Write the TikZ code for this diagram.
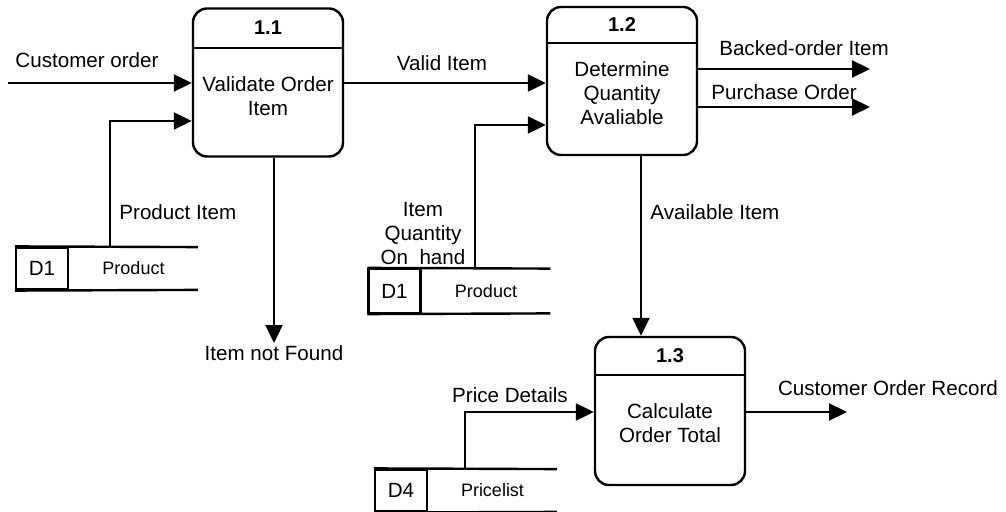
\documentclass[tikz,border=0pt]{standalone}
\usepackage{fontspec}
\setmainfont{Liberation Sans}
\usetikzlibrary{arrows.meta,positioning}

\begin{document}
\begin{tikzpicture}[
x=0.5pt,y=-0.5pt,
font=\fontsize{10.3}{12}\selectfont,
process/.style={draw,line width=1.2pt,rounded corners=7pt,minimum width=75pt,minimum height=74pt},
procid/.style={font=\fontsize{10}{12}\selectfont\bfseries},
proctext/.style={align=center,font=\fontsize{10.3}{12}\selectfont},
storeid/.style={draw,line width=1.1pt,minimum width=26pt,minimum height=21pt,inner sep=0pt},
storename/.style={minimum width=64pt,minimum height=21pt,inner sep=0pt,font=\fontsize{9}{11}\selectfont},
storeline/.style={line width=1.2pt},
flow/.style={line width=1.1pt,-{Triangle[length=9pt,width=8.5pt]}},
lbl/.style={inner sep=1pt,align=center}
]
\useasboundingbox (0,0) rectangle (1006,512);

% processes
\node[process] (p11) at (268,82.5) {};
\node[procid] (n11) at (268,28) {1.1};
\draw[storeline] (p11.west |- 0,48) -- (p11.east |- 0,48);
\node[proctext] (t11) at (268,96) {Validate Order\\Item};

\node[process] (p12) at (622,81) {};
\node[procid] (n12) at (622,25) {1.2};
\draw[storeline] (p12.west |- 0,43) -- (p12.east |- 0,43);
\node[proctext] (t12) at (622,93) {Determine\\Quantity\\Avaliable};

\node[process] (p13) at (670,411) {};
\node[procid] (n13) at (670,356) {1.3};
\draw[storeline] (p13.west |- 0,375) -- (p13.east |- 0,375);
\node[proctext] (t13) at (670,423) {Calculate\\Order Total};

% data stores
\node[storeid] (d1a) at (42,268.5) {D1};
\node[storename,right=0pt of d1a] (d1aname) {Product};
\draw[storeline] (d1a.north west) -- (d1aname.north east);
\draw[storeline] (d1a.south west) -- (d1aname.south east);

\node[storeid,minimum height=22pt] (d1b) at (394.5,291) {D1};
\node[storename,minimum height=22pt,right=0pt of d1b] (d1bname) {Product};
\draw[storeline] (d1b.north west) -- (d1bname.north east);
\draw[storeline] (d1b.south west) -- (d1bname.south east);

\node[storeid] (d4) at (401,490.5) {D4};
\node[storename,right=0pt of d4] (d4name) {Pricelist};
\draw[storeline] (d4.north west) -- (d4name.north east);
\draw[storeline] (d4.south west) -- (d4name.south east);

% flows
\coordinate (co) at (8,83);
\draw[flow] (co) -- (co -| p11.west);
\node[lbl] (lco) at (87,60) {Customer order};

\coordinate (pi) at (110,121);
\draw[flow] (pi |- d1aname.north) -- (pi) -- (pi -| p11.west);
\node[lbl,anchor=west] (lpi) at (117,212) {Product Item};

\node[lbl] (inf) at (274,353) {Item not Found};
\draw[flow] (inf.north |- p11.south) -- (inf.north);

\draw[flow] (p11.east |- 0,83) -- (p12.west |- 0,83);
\node[lbl] (lvi) at (442,63) {Valid Item};

\coordinate (bo) at (870,69);
\draw[flow] (bo -| p12.east) -- (bo);
\node[lbl] (lbo) at (804,48) {Backed-order Item};

\coordinate (po) at (870,107);
\draw[flow] (po -| p12.east) -- (po);
\node[lbl] (lpo) at (784,92) {Purchase Order};

\coordinate (iq) at (475,125);
\draw[flow] (iq |- d1bname.north) -- (iq) -- (iq -| p12.west);
\node[lbl] (liq) at (423,234) {Item\\Quantity\\On~ hand};

\coordinate (av) at (641,0);
\draw[flow] (av |- p12.south) -- (av |- p13.north);
\node[lbl,anchor=west] (lav) at (648,212) {Available Item};

\coordinate (pd) at (465,412);
\draw[flow] (pd |- d4name.north) -- (pd) -- (pd -| p13.west);
\node[lbl] (lpd) at (510,395) {Price Details};

\coordinate (cor) at (847,412);
\draw[flow] (cor -| p13.east) -- (cor);
\node[lbl] (lcor) at (888,388) {Customer Order Record};
\end{tikzpicture}
\end{document}
